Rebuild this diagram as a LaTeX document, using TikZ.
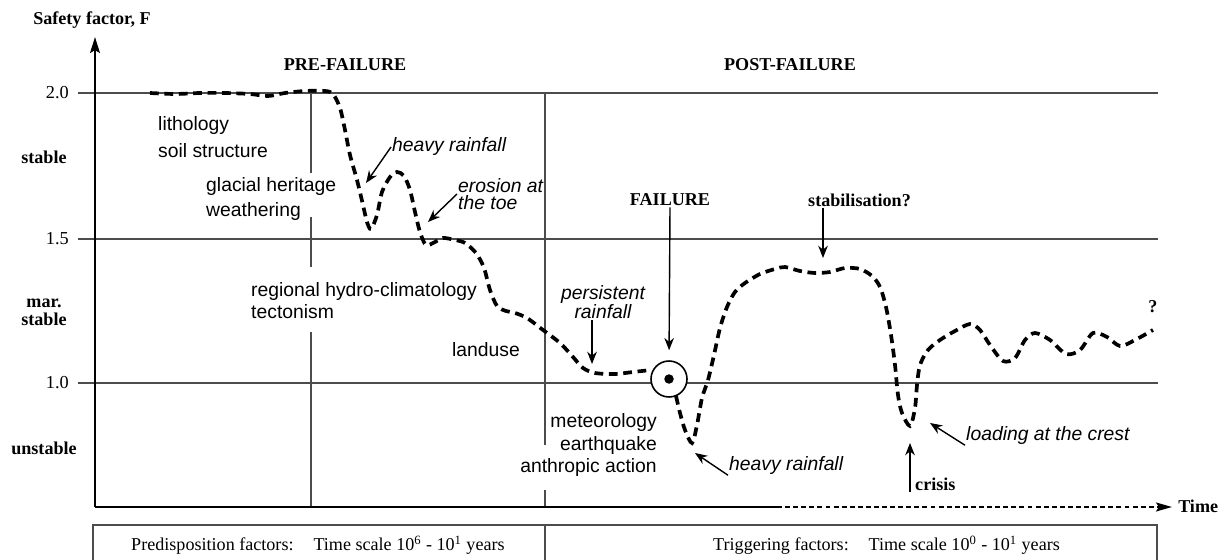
\documentclass[tikz,border=0pt]{standalone}
\usepackage{fontspec}
\setmainfont{Liberation Serif}
\newfontfamily\annofont{Liberation Sans}
\usetikzlibrary{arrows.meta}

\tikzset{
 gridline/.style={draw=black!70, line width=0.6pt},
 axisline/.style={line width=1.4pt},
 sfcurve/.style={line width=2.1pt, dash pattern=on 5pt off 3.2pt},
 pointer/.style={line width=0.8pt, -{Stealth[length=7pt,width=5.5pt]}},
 heading/.style={font=\fontsize{10.3}{10.3}\selectfont\bfseries, inner sep=0.5pt, align=center},
 ticklabel/.style={font=\fontsize{10.4}{12}\selectfont, inner sep=0.5pt},
 factor/.style={font=\annofont, inner sep=0.5pt},
 trigger/.style={font=\fontsize{11}{10}\annofont\itshape, inner sep=0.5pt},
 scaletext/.style={font=\fontsize{10.3}{12}\selectfont, inner sep=0.5pt}
}

\begin{document}
\begin{tikzpicture}[x=0.02cm, y=-0.02cm]
 \useasboundingbox (0,0) rectangle (1229,560);

 \draw[gridline] (78,93) -- (1158,93);
 \draw[gridline] (78,239) -- (1158,239);
 \draw[gridline] (78,383) -- (1158,383);
 \draw[gridline] (311,93) -- (311,173) (311,217) -- (311,267) (311,332) -- (311,507);
 \draw[gridline] (545,93) -- (545,445) (545,490) -- (545,507);

 \node[heading] (ylab) at (92,20) {Safety factor, F};
 \node[ticklabel, anchor=east] (t20) at (70,93) {2.0};
 \node[ticklabel, anchor=east] (t15) at (70,239) {1.5};
 \node[ticklabel, anchor=east] (t10) at (70,383) {1.0};
 \node[heading] (stable) at (44,157) {stable};
 \node[heading] (marg) at (44,312) {mar.\\stable};
 \node[heading] (unstable) at (44,448) {unstable};
 \node[heading] (pre) at (345,65) {PRE-FAILURE};
 \node[heading] (post) at (790,65) {POST-FAILURE};

 \coordinate (origin) at (95,507);
 \coordinate (ytop) at (95,37);
 \coordinate (xsolid) at (777,507);
 \coordinate (xtip) at (1172,507);
 \draw[axisline, -{Stealth[length=9pt,width=5.5pt,inset=1.5pt]}] (origin) -- (ytop);
 \draw[axisline] (origin) -- (xsolid);
 \draw[axisline, dash pattern=on 2.8pt off 1.8pt, -{Stealth[length=9pt,width=5pt,inset=1.5pt]}] (xsolid) -- (xtip);
 \node[heading, anchor=west] (time) at (1177,506) {Time};

 \node[factor, align=left, anchor=west, font=\fontsize{11}{15.4}\annofont] (litho) at (157,137) {lithology\\soil structure};
 \node[factor, align=left, anchor=west, font=\fontsize{11}{14}\annofont] (glacial) at (205,199) {glacial heritage\\weathering};
 \node[factor, align=left, anchor=west, font=\fontsize{11}{12.5}\annofont] (regional) at (250,301) {regional hydro-climatology\\tectonism};
 \node[factor, font=\fontsize{11}{13}\annofont] (landuse) at (486,350) {landuse};
 \node[factor, align=right, anchor=east, font=\fontsize{11}{13}\annofont] (meteo) at (658,445) {meteorology\\earthquake\\anthropic action};

 \draw[sfcurve] plot[smooth, tension=0.5] coordinates {(150,93) (175,94) (200,93) (225,93) (250,94) (268,96) (285,93) (305,91) (325,91) (333,94) (340,108) (345,130) (350,155) (357,180) (363,205) (367,222) (371,229) (377,215) (382,192) (390,177) (397,172) (404,176) (410,190) (415,212) (420,232) (426,245) (435,242) (443,238) (455,240) (465,243) (476,253) (484,268) (490,290) (497,306) (506,311) (515,313) (527,318) (543,330) (560,343) (573,357) (583,368) (595,373) (615,374) (633,372) (651,370)};
 \draw[sfcurve] plot[smooth, tension=0.5] coordinates {(676,396) (680,413) (685,430) (692,443) (697,425) (702,398) (708,380) (714,355) (720,328) (727,307) (735,292) (745,283) (760,274) (775,269) (785,267) (800,271) (815,273) (830,272) (845,268) (860,269) (872,276) (880,287) (886,307) (891,335) (895,365) (898,395) (902,413) (910,426) (915,408) (917,385) (920,365) (928,350) (940,340) (955,331) (970,324) (980,330) (990,345) (1003,361) (1015,358) (1025,340) (1035,333) (1050,340) (1066,354) (1080,350) (1093,333) (1107,337) (1120,346) (1135,340) (1153,330)};

 \node[circle, draw, line width=0.9pt, fill=white, minimum size=0.72cm, inner sep=0pt] (failpt) at (669,379) {};
 \node[circle, fill, minimum size=0.19cm, inner sep=0pt] (failcore) at (failpt) {};

 \node[trigger, anchor=west] (rain1) at (391,147) {heavy rainfall};
 \node[trigger, anchor=west, align=left] (erosion) at (457,194) {erosion at\\the toe};
 \node[trigger, align=center] (persist) at (603,302) {persistent\\rainfall};
 \node[trigger, anchor=west] (rain2) at (728,465) {heavy rainfall};
 \node[trigger, anchor=west] (loading) at (965,435) {loading at the crest};
 \node[heading] (failure) at (670,200) {FAILURE};
 \node[heading, anchor=west] (stabil) at (807,200) {stabilisation?};
 \node[heading, anchor=west] (crisis) at (914,484) {crisis};
 \node[heading] (query) at (1153,307) {?};

 \coordinate (rain1tip) at (366,183);
 \coordinate (erosiontip) at (428,222);
 \coordinate (persisttip) at (592,364);
 \coordinate (stabiltip) at (823,258);
 \coordinate (rain2tip) at (695,453);
 \coordinate (loadingtip) at (930,423);
 \coordinate (crisistip) at (910,443);
 \draw[pointer] (rain1.west) -- (rain1tip);
 \draw[pointer] (erosion.west) -- (erosiontip);
 \draw[pointer] (persisttip |- persist.south) -- (persisttip);
 \draw[pointer, shorten >=0.2cm] (failure.south) -- (failpt.north);
 \draw[pointer] (stabiltip |- stabil.south) -- (stabiltip);
 \draw[pointer] (rain2.south west) -- (rain2tip);
 \draw[pointer] (loading.south west) -- (loadingtip);
 \draw[pointer] (crisistip |- crisis.south) -- (crisistip);

 \draw[gridline, line width=0.8pt] (93,525) rectangle (1157,562);
 \draw[gridline, line width=0.8pt] (545,525) -- (545,562);
 \node[scaletext, anchor=west] (predispo) at (130,545) {Predisposition factors:\hspace{1.1em}Time scale 10\textsuperscript{6} - 10\textsuperscript{1} years};
 \node[scaletext, anchor=west] (trigfac) at (712,545) {Triggering factors:\hspace{1.1em}Time scale 10\textsuperscript{0} - 10\textsuperscript{1} years};
\end{tikzpicture}
\end{document}
